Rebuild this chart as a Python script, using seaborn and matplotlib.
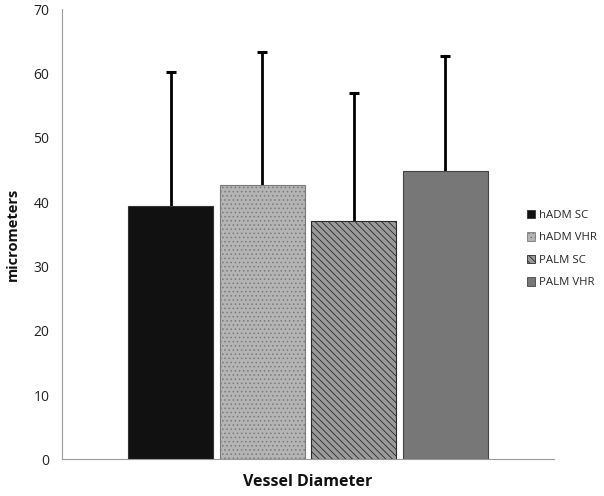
import matplotlib
matplotlib.use("Agg")
import matplotlib.pyplot as plt
import seaborn as sns
import pandas as pd
from matplotlib.patches import Patch

groups = ["hADM SC", "hADM VHR", "PALM SC", "PALM VHR"]
means = [39.4, 42.7, 37.1, 44.8]
errors = [20.8, 20.7, 19.9, 17.9]
category = "Vessel Diameter"
yticks = [0, 10, 20, 30, 40, 50, 60, 70]

facecolors = ["#111111", "#b4b4b4", "#9a9a9a", "#777777"]
edgecolors = ["#333333", "#7a7a7a", "#2a2a2a", "#444444"]
hatches = [None, "....", "\\\\\\\\\\", None]

sns.set_theme(style="white")
plt.rcParams["font.family"] = ["Open Sans", "DejaVu Sans"]
plt.rcParams["hatch.linewidth"] = 0.6

df = pd.DataFrame({"cat": [category] * 4, "group": groups, "value": means})

fig = plt.figure(figsize=(6.04, 4.96), dpi=100)
ax = fig.add_axes([62 / 604, 1 - 459.3 / 496, (554 - 62) / 604, (459.3 - 9.3) / 496])

sns.barplot(data=df, x="cat", y="value", hue="group", hue_order=groups,
            palette=facecolors, width=0.745, gap=0.075, errorbar=None,
            saturation=1, legend=False, ax=ax)

bars = [p for p in ax.patches][:4]
for i, (b, fc, ec, h) in enumerate(zip(bars, facecolors, edgecolors, hatches)):
    b.set_facecolor(fc)
    b.set_edgecolor(ec)
    b.set_linewidth(0.8)
    b.set_zorder(2)
    if h:
        b.set_hatch(h)
    x = b.get_x() + b.get_width() / 2
    ax.errorbar([x], [means[i]], yerr=[[0], [errors[i]]], fmt="none",
                ecolor="black", elinewidth=2.0, capsize=0, zorder=1)
    ax.plot([x], [means[i] + errors[i]], marker="_", markersize=7,
            markeredgewidth=2.2, color="black", zorder=1)

ax.set_ylim(0, 70)
ax.set_xlim(-0.5, 0.5)
ax.set_yticks(yticks)
ax.set_yticklabels([str(t) for t in yticks], fontsize=10, color="#222222")
ax.set_xticks([-0.5, 0.5])
ax.set_xticklabels(["", ""])
ax.tick_params(axis="both", direction="out", length=5, width=0.8, color="#9a9a9a", pad=4)
for s in ["top", "right"]:
    ax.spines[s].set_visible(False)
for s in ["left", "bottom"]:
    ax.spines[s].set_color("#9a9a9a")
    ax.spines[s].set_linewidth(0.8)

ax.set_ylabel("micrometers", fontsize=10.5, fontweight="bold", color="#111111", labelpad=10)
ax.set_xlabel("")
fig.text(308 / 604, 1 - 482 / 496, "Vessel Diameter", ha="center", va="center",
         fontsize=11.5, fontweight="bold", color="#111111")

handles = [Patch(facecolor=fc, edgecolor=ec, hatch=h, linewidth=0.6)
           for fc, ec, h in zip(facecolors, edgecolors, hatches)]
fig.legend(handles, groups, loc="center left", bbox_to_anchor=(522 / 604, 1 - 249 / 496),
           frameon=False, fontsize=8.2, handlelength=0.75, handleheight=0.75,
           handletextpad=0.35, labelspacing=1.0, borderaxespad=0)

fig.savefig("out.png", dpi=100)
